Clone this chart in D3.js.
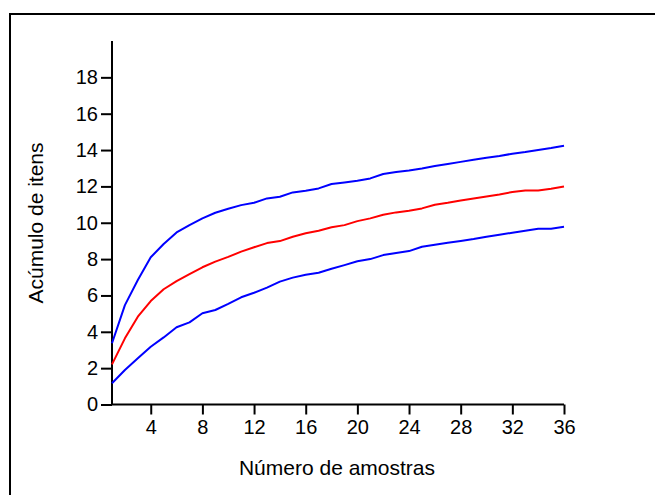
<!DOCTYPE html>
<html>
<head>
<meta charset="utf-8">
<script src="https://cdn.jsdelivr.net/npm/d3@7"></script>
<style>
  html, body { margin: 0; padding: 0; background: #fff; overflow: hidden; }
  svg { display: block; }
  text { font-family: "Liberation Sans", Arial, sans-serif; fill: #000; }
</style>
</head>
<body>
<svg id="chart" width="655" height="495"></svg>
<script>
const samples = d3.range(1, 37);
const upper = [3.37, 5.47, 6.85, 8.1, 8.83, 9.47, 9.87, 10.24, 10.55, 10.77,
  10.97, 11.1, 11.34, 11.43, 11.67, 11.76, 11.89, 12.13, 12.22, 12.31,
  12.44, 12.68, 12.79, 12.88, 12.99, 13.12, 13.23, 13.35, 13.47, 13.58,
  13.67, 13.8, 13.89, 14.0, 14.11, 14.24];
const mean = [2.21, 3.64, 4.83, 5.69, 6.34, 6.79, 7.18, 7.55, 7.86, 8.12,
  8.41, 8.65, 8.88, 8.99, 9.23, 9.42, 9.56, 9.75, 9.87, 10.09,
  10.24, 10.44, 10.57, 10.66, 10.79, 10.99, 11.1, 11.23, 11.34, 11.45,
  11.56, 11.69, 11.78, 11.78, 11.87, 12.0];
const lower = [1.17, 1.9, 2.54, 3.18, 3.69, 4.25, 4.52, 5.02, 5.2, 5.54,
  5.9, 6.15, 6.43, 6.76, 6.98, 7.14, 7.25, 7.47, 7.67, 7.88,
  8.0, 8.22, 8.33, 8.44, 8.68, 8.79, 8.9, 9.0, 9.1, 9.23,
  9.34, 9.45, 9.56, 9.67, 9.67, 9.78];
const xTicks = [4, 8, 12, 16, 20, 24, 28, 32, 36];
const yTicks = [0, 2, 4, 6, 8, 10, 12, 14, 16, 18];
const xLabel = "Número de amostras";
const yLabel = "Acúmulo de itens";

const svg = d3.select("#chart");

// outer frame (extends past the window on right/bottom)
svg.append("rect")
  .attr("x", 10).attr("y", 14).attr("width", 700).attr("height", 600)
  .attr("fill", "none").attr("stroke", "#000").attr("stroke-width", 2);

const x = d3.scaleLinear().domain([1, 36]).range([112, 564]);
const y = d3.scaleLinear().domain([0, 20]).range([404.5, 41]);

const xAxis = svg.append("g")
  .attr("transform", `translate(0,${y(0)})`)
  .call(d3.axisBottom(x).tickValues(xTicks).tickSize(10).tickSizeOuter(0).tickPadding(5));
const yAxis = svg.append("g")
  .attr("transform", `translate(${x(1)},0)`)
  .call(d3.axisLeft(y).tickValues(yTicks).tickSize(11).tickSizeOuter(0).tickPadding(3));

[xAxis, yAxis].forEach(g => {
  g.select(".domain").attr("stroke", "#000").attr("stroke-width", 2);
  g.selectAll(".tick line").attr("stroke", "#000").attr("stroke-width", 2);
  g.selectAll(".tick text")
    .attr("font-family", '"Liberation Sans", Arial, sans-serif')
    .attr("font-size", 20).attr("fill", "#000");
});
// y axis goes up to 20 (no tick); x axis starts at the y axis
yAxis.select(".domain").attr("d", `M0,${y(0)}V${y(20)}`);
xAxis.select(".domain").attr("d", `M${x(1)},0H${x(36)}`);

const line = d3.line().x((d, i) => x(samples[i])).y(d => y(d));

const series = [
  { values: upper, color: "#0000ff" },
  { values: mean, color: "#ff0000" },
  { values: lower, color: "#0000ff" }
];
svg.append("g").selectAll("path")
  .data(series)
  .join("path")
  .attr("d", s => line(s.values))
  .attr("fill", "none")
  .attr("stroke", s => s.color)
  .attr("stroke-width", 2)
  .attr("stroke-linejoin", "round");

svg.append("text")
  .attr("x", 337).attr("y", 475)
  .attr("text-anchor", "middle")
  .attr("font-size", 21)
  .text(xLabel);

svg.append("text")
  .attr("transform", "translate(43,223) rotate(-90)")
  .attr("text-anchor", "middle")
  .attr("font-size", 21)
  .text(yLabel);
</script>
</body>
</html>
